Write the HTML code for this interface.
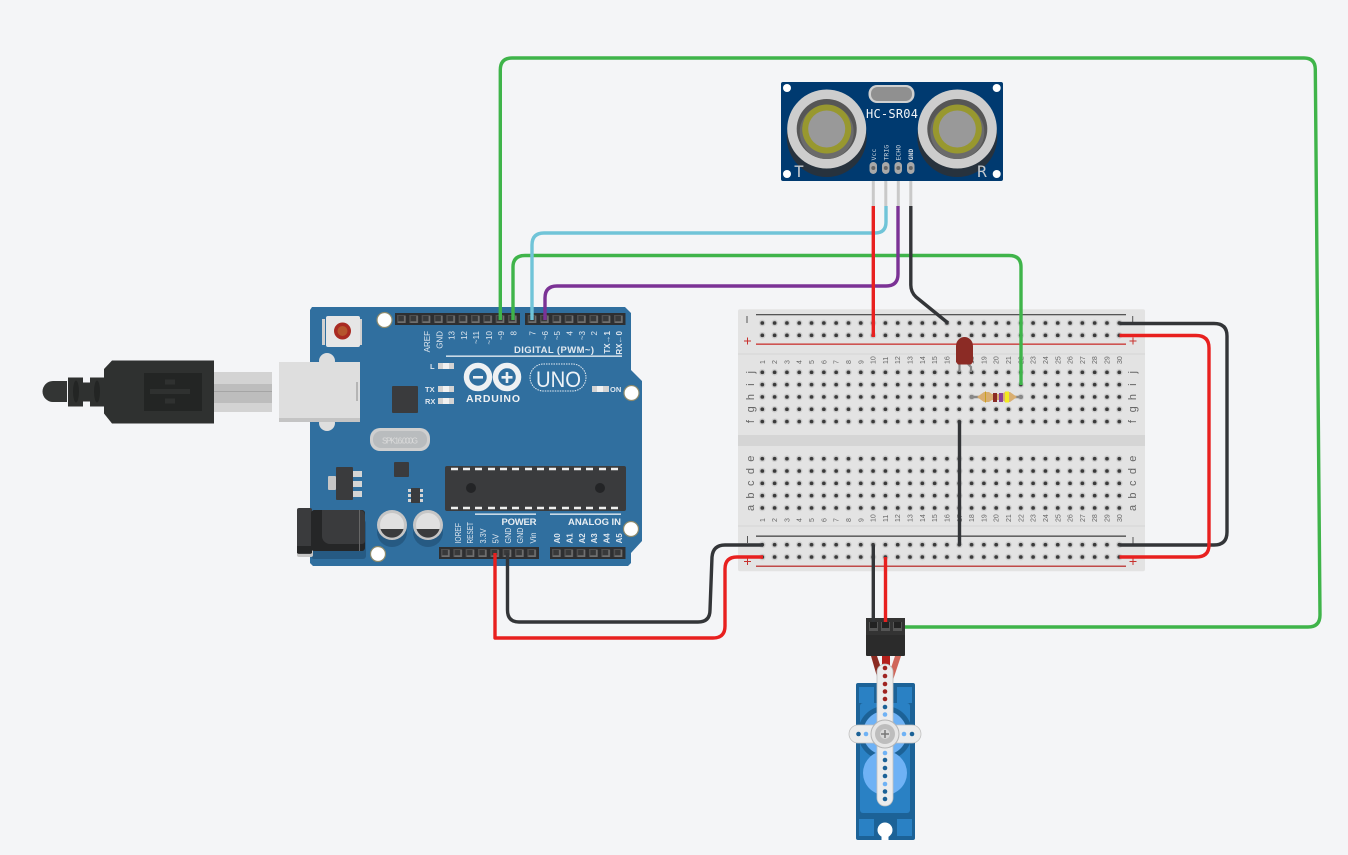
<!DOCTYPE html>
<html><head><meta charset="utf-8"><style>
html,body{margin:0;padding:0;background:#f4f5f7;width:1348px;height:855px;overflow:hidden}
svg{display:block}
text{font-family:"Liberation Sans",sans-serif}
.a{fill:#dfe7ef;font-size:8px;text-anchor:end}
.b{fill:#dfe7ef;font-size:8px;text-anchor:start}
.n{fill:#666;font-size:7px;text-anchor:start}
.l{fill:#666;font-size:11px;text-anchor:middle}
.d{font-family:"DejaVu Sans Mono",monospace}
.w{fill:none;stroke-width:3.4;stroke-linejoin:round;stroke-linecap:butt}
</style></head><body>
<svg width="1348" height="855" viewBox="0 0 1348 855" xmlns="http://www.w3.org/2000/svg">
<defs>
<g id="hc"><circle cx="6.150" cy="6.150" r="3.300" fill="#cdcdcd"/><circle cx="6.150" cy="6.150" r="1.900" fill="#3a3a3a"/></g>
<pattern id="h1" x="756.150" y="316.850" width="12.310" height="12.310" patternUnits="userSpaceOnUse"><use href="#hc"/></pattern>
<pattern id="h2" x="756.150" y="366.150" width="12.310" height="12.310" patternUnits="userSpaceOnUse"><use href="#hc"/></pattern>
<pattern id="h3" x="756.150" y="452.550" width="12.310" height="12.310" patternUnits="userSpaceOnUse"><use href="#hc"/></pattern>
<pattern id="h4" x="756.150" y="538.550" width="12.310" height="12.310" patternUnits="userSpaceOnUse"><use href="#hc"/></pattern>
<g id="pc"><rect x="2" y="2" width="8.600" height="8" fill="#505050"/><rect x="3.500" y="3" width="5.500" height="5" fill="#38393a"/><path d="M3 8.500h7v1.500h-7zM9 3h1.600v7H9z" fill="#707070"/></g>
<pattern id="p1" x="395" y="313" width="12.330" height="12" patternUnits="userSpaceOnUse"><use href="#pc"/></pattern>
<pattern id="p2" x="525.700" y="313" width="12.330" height="12" patternUnits="userSpaceOnUse"><use href="#pc"/></pattern>
<pattern id="p3" x="439" y="547" width="12.330" height="12" patternUnits="userSpaceOnUse"><use href="#pc"/></pattern>
<pattern id="p4" x="550" y="547" width="12.330" height="12" patternUnits="userSpaceOnUse"><use href="#pc"/></pattern>
</defs>
<rect width="1348" height="855" fill="#f4f5f7"/>

<!-- USB cable -->
<path d="M67 381H53a10.500 10.500 0 0 0 0 21H67z" fill="#333534"/>
<path d="M68 377.500h15v5h7v-5h14v29h-14v-5h-7v5h-15z" fill="#2f3130"/>
<ellipse cx="76" cy="391.500" rx="3" ry="11" fill="#232524"/><ellipse cx="97" cy="391.500" rx="3" ry="11" fill="#232524"/>
<path d="M104 369l8-8.500h102v63h-102l-8-10z" fill="#2f3130"/>
<rect x="144" y="373" width="58" height="38" fill="#232524"/>
<path d="M150 391.500h40M165 382h10M165 401h10" stroke="#2f3130" stroke-width="5" fill="none"/>
<rect x="214" y="372" width="58" height="40" fill="#d3d3d3"/><rect x="214" y="384" width="58" height="19" fill="#bdbdbd"/>
<path d="M214 391.500h58" stroke="#a5a5a5" stroke-width="1"/>

<!-- Arduino board -->
<path d="M312 307H625L631 313V370L642 381V541L631 553V563L628 566H313L310 563V310Z" fill="#306f9f"/>
<rect x="326" y="316" width="34" height="31" rx="2" fill="#e6e6e6"/><rect x="322" y="319" width="3" height="26" fill="#d0d0d0"/><rect x="360" y="319" width="2" height="26" fill="#d0d0d0"/>
<circle cx="342.500" cy="331" r="8.500" fill="#a92a22"/><circle cx="342.500" cy="331" r="5" fill="#b5552d"/>
<ellipse cx="327" cy="361" rx="8" ry="8" fill="#dedede"/><ellipse cx="327" cy="423" rx="8" ry="8" fill="#dedede"/>
<rect x="279" y="362" width="81" height="60" fill="#dedede"/><rect x="279" y="418" width="81" height="4" fill="#c4c4c4"/><rect x="356" y="382" width="2" height="19" fill="#b5b5b5"/>

<g fill="#fff" stroke="#8d8a6c" stroke-width="1.200"><circle cx="384.500" cy="320" r="7.500"/><circle cx="631.500" cy="393" r="7.500"/><circle cx="631" cy="529" r="7.500"/><circle cx="378" cy="554" r="7.500"/></g>

<rect x="395" y="313" width="125" height="12" fill="#2e2f31"/><rect x="395" y="313" width="124" height="12" fill="url(#p1)"/>
<rect x="525" y="313" width="100.500" height="12" fill="#2e2f31"/><rect x="525.700" y="313" width="99" height="12" fill="url(#p2)"/>
<rect x="439" y="547" width="100" height="12" fill="#2e2f31"/><rect x="439" y="547" width="99" height="12" fill="url(#p3)"/>
<rect x="550" y="547" width="75.500" height="12" fill="#2e2f31"/><rect x="550" y="547" width="74" height="12" fill="url(#p4)"/>

<text class="a" transform="translate(430,331) rotate(-90)">AREF</text>
<text class="a" transform="translate(442.500,331) rotate(-90)">GND</text>
<text class="a" transform="translate(454.500,331) rotate(-90)">13</text>
<text class="a" transform="translate(467,331) rotate(-90)">12</text>
<text class="a" transform="translate(479,331) rotate(-90)">~11</text>
<text class="a" transform="translate(492,331) rotate(-90)">~10</text>
<text class="a" transform="translate(504,331) rotate(-90)">~9</text>
<text class="a" transform="translate(516.500,331) rotate(-90)">8</text>
<text class="a" transform="translate(535.500,331) rotate(-90)">7</text>
<text class="a" transform="translate(548,331) rotate(-90)">~6</text>
<text class="a" transform="translate(560,331) rotate(-90)">~5</text>
<text class="a" transform="translate(572.500,331) rotate(-90)">4</text>
<text class="a" transform="translate(585,331) rotate(-90)">~3</text>
<text class="a" transform="translate(597,331) rotate(-90)">2</text>
<text class="a" transform="translate(610,331) rotate(-90)" font-weight="bold">TX→1</text>
<text class="a" transform="translate(622,331) rotate(-90)" font-weight="bold">RX←0</text>
<text class="b" transform="translate(461,543.500) rotate(-90)" textLength="20.500" lengthAdjust="spacingAndGlyphs">IOREF</text>
<text class="b" transform="translate(473,543.500) rotate(-90)" textLength="21.500" lengthAdjust="spacingAndGlyphs">RESET</text>
<text class="b" transform="translate(486,543.500) rotate(-90)" textLength="15" lengthAdjust="spacingAndGlyphs">3.3V</text>
<text class="b" transform="translate(498.500,543.500) rotate(-90)" textLength="9.500" lengthAdjust="spacingAndGlyphs">5V</text>
<text class="b" transform="translate(511,543.500) rotate(-90)" textLength="16" lengthAdjust="spacingAndGlyphs">GND</text>
<text class="b" transform="translate(523,543.500) rotate(-90)" textLength="16" lengthAdjust="spacingAndGlyphs">GND</text>
<text class="b" transform="translate(536,543.500) rotate(-90)" textLength="11" lengthAdjust="spacingAndGlyphs">Vin</text>
<text class="b" transform="translate(560,543.500) rotate(-90)" font-weight="bold">A0</text>
<text class="b" transform="translate(572.500,543.500) rotate(-90)" font-weight="bold">A1</text>
<text class="b" transform="translate(585,543.500) rotate(-90)" font-weight="bold">A2</text>
<text class="b" transform="translate(597,543.500) rotate(-90)" font-weight="bold">A3</text>
<text class="b" transform="translate(609.500,543.500) rotate(-90)" font-weight="bold">A4</text>
<text class="b" transform="translate(622,543.500) rotate(-90)" font-weight="bold">A5</text>
<text x="514" y="353" fill="#e2e9f0" font-size="9.500" font-weight="bold" textLength="80">DIGITAL (PWM~)</text>
<rect x="446" y="355.500" width="176" height="1.300" fill="#eef3f7"/>
<rect x="475" y="513.500" width="61" height="1.300" fill="#eef3f7"/><rect x="550" y="513.500" width="71" height="1.300" fill="#eef3f7"/>
<text x="501.500" y="525" fill="#e8eef3" font-size="9.500" font-weight="bold" textLength="35">POWER</text>
<text x="568" y="525" fill="#e8eef3" font-size="9.500" font-weight="bold" textLength="53">ANALOG IN</text>

<g fill="#d3d3d3"><rect x="438" y="363" width="16" height="6"/><rect x="438" y="386" width="16" height="6"/><rect x="438" y="398" width="16" height="6"/><rect x="592" y="386" width="17" height="6"/></g>
<g fill="#f1f1f1"><rect x="443" y="363" width="6" height="6"/><rect x="443" y="386" width="6" height="6"/><rect x="443" y="398" width="6" height="6"/><rect x="597" y="386" width="6" height="6"/></g>
<g fill="#dfe7ef" font-size="7.500" font-weight="bold"><text x="430" y="369">L</text><text x="425" y="392">TX</text><text x="425" y="404">RX</text><text x="610" y="392">ON</text></g>

<g fill="none" stroke="#eef1f3" stroke-width="5.500"><circle cx="478" cy="377" r="11.500"/><circle cx="507" cy="377" r="11.500"/></g>
<rect x="473" y="376" width="10" height="2.600" fill="#eef1f3"/><path d="M501.500 377.300h11M507 372v11" stroke="#eef1f3" stroke-width="2.600"/>
<text x="466" y="402" fill="#eef1f3" font-size="10.500" font-weight="bold" textLength="54">ARDUINO</text>
<rect x="530" y="364" width="56" height="27" rx="13.500" fill="none" stroke="#e8eef3" stroke-width="1" stroke-dasharray="1.500 1"/>
<text x="536" y="387" fill="#eef3f7" font-size="22" textLength="45" lengthAdjust="spacingAndGlyphs">UNO</text>

<rect x="392" y="386" width="26" height="27" rx="1" fill="#3a3b3d"/>
<rect x="370" y="428" width="60" height="23" rx="10" fill="#cfcfcf"/><rect x="373" y="431" width="54" height="17" rx="8" fill="#b9bcbe"/>
<text x="400" y="443.500" fill="#dcdcdc" font-size="8" text-anchor="middle" textLength="36">SPK16.000G</text>
<rect x="328" y="476" width="8" height="14" rx="1" fill="#c6c6c6"/>
<g fill="#d5d5d5"><rect x="352" y="471" width="10" height="6"/><rect x="352" y="481" width="10" height="6"/><rect x="352" y="491" width="10" height="6"/></g>
<rect x="336" y="467" width="17" height="33" rx="1" fill="#3a3b3d"/>
<rect x="394" y="462" width="15" height="15" rx="1" fill="#3a3b3d"/>
<g fill="#d5d5d5"><rect x="408" y="489" width="15" height="3"/><rect x="408" y="494" width="15" height="3"/><rect x="408" y="499" width="15" height="3"/></g>
<rect x="411" y="488" width="9" height="15" fill="#3a3b3d"/>
<rect x="445" y="466" width="181" height="45" rx="2" fill="#3a3b3d"/>
<path d="M451 469h7M463 469h7M475 469h7M488 469h7M500 469h7M512 469h7M525 469h7M537 469h7M549 469h7M562 469h7M574 469h7M586 469h7M599 469h7M611 469h7M451 508h7M463 508h7M475 508h7M488 508h7M500 508h7M512 508h7M525 508h7M537 508h7M549 508h7M562 508h7M574 508h7M586 508h7M599 508h7M611 508h7" stroke="#eee" stroke-width="2.500"/>
<circle cx="471" cy="488" r="5" fill="#232426"/><circle cx="600" cy="488" r="5" fill="#232426"/>

<circle cx="392" cy="532" r="15" fill="#265a83"/><circle cx="428" cy="532" r="15" fill="#265a83"/>
<circle cx="392" cy="525" r="15" fill="#c6c6c6"/><circle cx="392" cy="525" r="12" fill="#e0e0e0"/><path d="M380.500 529h23a12 12 0 0 1-23 0z" fill="#3a3b3d"/>
<circle cx="428" cy="525" r="15" fill="#c6c6c6"/><circle cx="428" cy="525" r="12" fill="#e0e0e0"/><path d="M416.500 529h23a12 12 0 0 1-23 0z" fill="#3a3b3d"/>
<rect x="311" y="520" width="55" height="39" rx="3" fill="#265a83"/>
<rect x="297" y="510" width="16" height="47" rx="2" fill="#c6c6c6"/>
<rect x="297" y="508" width="15" height="46" rx="2" fill="#3a3b3d"/><rect x="297" y="546" width="15" height="7" fill="#252627"/>
<rect x="311" y="510" width="54" height="41" rx="3" fill="#252627"/><path d="M322 510h38a5 5 0 0 1 5 5v26a3 3 0 0 1-3 3h-32a8 8 0 0 1-8-8z" fill="#3a3b3d"/><rect x="359" y="510" width="1" height="41" fill="#666"/>

<!-- Breadboard -->
<rect x="738" y="309.300" width="407" height="262" rx="2" fill="#e3e3e3"/>
<path d="M738 354h407M738 526h407" stroke="#d6d6d6" stroke-width="1"/>
<rect x="738" y="435" width="407" height="11" fill="#d5d5d5"/>
<rect x="756" y="314" width="370" height="1.300" fill="#555"/>
<rect x="756" y="343.500" width="370" height="1.300" fill="#c8312e"/>
<rect x="756" y="535.500" width="370" height="1.300" fill="#444"/>
<rect x="756" y="565.500" width="370" height="1.500" fill="#c04a48"/>
<rect x="756.150" y="316.850" width="369.300" height="24.620" fill="url(#h1)"/>
<rect x="756.150" y="366.150" width="369.300" height="61.550" fill="url(#h2)"/>
<rect x="756.150" y="452.550" width="369.300" height="61.550" fill="url(#h3)"/>
<rect x="756.150" y="538.550" width="369.300" height="24.620" fill="url(#h4)"/>
<path d="M747 316v7M1132.700 316v7M747.500 536v7M1133 537v7" stroke="#555" stroke-width="1"/>
<path d="M744 341h7M747.500 337.500v7M1129.500 341h7M1133 337.500v7M744 561.500h7M747.500 558v7M1129.500 561.500h7M1133 558v7" stroke="#c8312e" stroke-width="1"/>

<text class="n" transform="translate(764.800,364) rotate(-90)">1</text><text class="n" transform="translate(777.100,364) rotate(-90)">2</text><text class="n" transform="translate(789.400,364) rotate(-90)">3</text><text class="n" transform="translate(801.700,364) rotate(-90)">4</text><text class="n" transform="translate(814,364) rotate(-90)">5</text><text class="n" transform="translate(826.300,364) rotate(-90)">6</text><text class="n" transform="translate(838.700,364) rotate(-90)">7</text><text class="n" transform="translate(851,364) rotate(-90)">8</text><text class="n" transform="translate(863.300,364) rotate(-90)">9</text><text class="n" transform="translate(875.600,364) rotate(-90)">10</text><text class="n" transform="translate(887.900,364) rotate(-90)">11</text><text class="n" transform="translate(900.200,364) rotate(-90)">12</text><text class="n" transform="translate(912.500,364) rotate(-90)">13</text><text class="n" transform="translate(924.800,364) rotate(-90)">14</text><text class="n" transform="translate(937.100,364) rotate(-90)">15</text><text class="n" transform="translate(949.500,364) rotate(-90)">16</text><text class="n" transform="translate(961.800,364) rotate(-90)">17</text><text class="n" transform="translate(974.100,364) rotate(-90)">18</text><text class="n" transform="translate(986.400,364) rotate(-90)">19</text><text class="n" transform="translate(998.700,364) rotate(-90)">20</text><text class="n" transform="translate(1011,364) rotate(-90)">21</text><text class="n" transform="translate(1023.300,364) rotate(-90)">22</text><text class="n" transform="translate(1035.600,364) rotate(-90)">23</text><text class="n" transform="translate(1047.900,364) rotate(-90)">24</text><text class="n" transform="translate(1060.300,364) rotate(-90)">25</text><text class="n" transform="translate(1072.600,364) rotate(-90)">26</text><text class="n" transform="translate(1084.900,364) rotate(-90)">27</text><text class="n" transform="translate(1097.200,364) rotate(-90)">28</text><text class="n" transform="translate(1109.500,364) rotate(-90)">29</text><text class="n" transform="translate(1121.800,364) rotate(-90)">30</text>
<text class="n" transform="translate(764.800,522) rotate(-90)">1</text><text class="n" transform="translate(777.100,522) rotate(-90)">2</text><text class="n" transform="translate(789.400,522) rotate(-90)">3</text><text class="n" transform="translate(801.700,522) rotate(-90)">4</text><text class="n" transform="translate(814,522) rotate(-90)">5</text><text class="n" transform="translate(826.300,522) rotate(-90)">6</text><text class="n" transform="translate(838.700,522) rotate(-90)">7</text><text class="n" transform="translate(851,522) rotate(-90)">8</text><text class="n" transform="translate(863.300,522) rotate(-90)">9</text><text class="n" transform="translate(875.600,522) rotate(-90)">10</text><text class="n" transform="translate(887.900,522) rotate(-90)">11</text><text class="n" transform="translate(900.200,522) rotate(-90)">12</text><text class="n" transform="translate(912.500,522) rotate(-90)">13</text><text class="n" transform="translate(924.800,522) rotate(-90)">14</text><text class="n" transform="translate(937.100,522) rotate(-90)">15</text><text class="n" transform="translate(949.500,522) rotate(-90)">16</text><text class="n" transform="translate(961.800,522) rotate(-90)">17</text><text class="n" transform="translate(974.100,522) rotate(-90)">18</text><text class="n" transform="translate(986.400,522) rotate(-90)">19</text><text class="n" transform="translate(998.700,522) rotate(-90)">20</text><text class="n" transform="translate(1011,522) rotate(-90)">21</text><text class="n" transform="translate(1023.300,522) rotate(-90)">22</text><text class="n" transform="translate(1035.600,522) rotate(-90)">23</text><text class="n" transform="translate(1047.900,522) rotate(-90)">24</text><text class="n" transform="translate(1060.300,522) rotate(-90)">25</text><text class="n" transform="translate(1072.600,522) rotate(-90)">26</text><text class="n" transform="translate(1084.900,522) rotate(-90)">27</text><text class="n" transform="translate(1097.200,522) rotate(-90)">28</text><text class="n" transform="translate(1109.500,522) rotate(-90)">29</text><text class="n" transform="translate(1121.800,522) rotate(-90)">30</text>

<text class="l" transform="translate(754,372.300) rotate(-90)">j</text><text class="l" transform="translate(754,384.600) rotate(-90)">i</text><text class="l" transform="translate(754,397) rotate(-90)">h</text><text class="l" transform="translate(754,409.300) rotate(-90)">g</text><text class="l" transform="translate(754,421.600) rotate(-90)">f</text>
<text class="l" transform="translate(754,458.700) rotate(-90)">e</text><text class="l" transform="translate(754,471) rotate(-90)">d</text><text class="l" transform="translate(754,483.300) rotate(-90)">c</text><text class="l" transform="translate(754,495.600) rotate(-90)">b</text><text class="l" transform="translate(754,507.900) rotate(-90)">a</text>
<text class="l" transform="translate(1136,372.300) rotate(-90)">j</text><text class="l" transform="translate(1136,384.600) rotate(-90)">i</text><text class="l" transform="translate(1136,397) rotate(-90)">h</text><text class="l" transform="translate(1136,409.300) rotate(-90)">g</text><text class="l" transform="translate(1136,421.600) rotate(-90)">f</text>
<text class="l" transform="translate(1136,458.700) rotate(-90)">e</text><text class="l" transform="translate(1136,471) rotate(-90)">d</text><text class="l" transform="translate(1136,483.300) rotate(-90)">c</text><text class="l" transform="translate(1136,495.600) rotate(-90)">b</text><text class="l" transform="translate(1136,507.900) rotate(-90)">a</text>

<!-- Resistor -->
<path d="M972 397H1021" stroke="#888" stroke-width="2.500"/><circle cx="972" cy="397" r="2" fill="#888"/><circle cx="1021" cy="397" r="2" fill="#888"/>
<path d="M977 397l7-5h5l3 2h10l3-2h5l7 5-7 5h-5l-3-2h-10l-3 2h-5z" fill="#d9ae70"/>
<rect x="985" y="391.500" width="1" height="11" fill="#c9a020"/><rect x="993" y="393" width="4" height="9" fill="#8a2b24"/><rect x="999" y="393" width="4" height="9" fill="#8a3f97"/><rect x="1005" y="391.500" width="4" height="11" fill="#f2ea1f"/>

<!-- LED -->
<path d="M959.500 364v8M968 364l3 3v5" stroke="#8a8a8a" stroke-width="2.200" fill="none"/>
<path d="M956 346a8.500 9 0 0 1 17 0v16l-2 2.500h-13l-2-2.500z" fill="#8b2b25"/>

<!-- Sensor -->
<rect x="781" y="82" width="222" height="99" rx="2" fill="#003a70"/>
<g fill="#fff"><circle cx="787" cy="88" r="4"/><circle cx="996.700" cy="88" r="4"/><circle cx="787" cy="174" r="4"/><circle cx="996.700" cy="174" r="4"/></g>
<circle cx="826.700" cy="137" r="40" fill="#27323d"/><circle cx="957.300" cy="137" r="40" fill="#27323d"/>
<circle cx="826.700" cy="129" r="39.500" fill="#cdcdcd"/><circle cx="826.700" cy="129" r="30" fill="#565656"/><circle cx="826.700" cy="132" r="27" fill="#6b6b6b"/><circle cx="826.700" cy="129" r="24.500" fill="#98982f"/><circle cx="826.700" cy="129" r="18.500" fill="#999"/>
<circle cx="957.300" cy="129" r="39.500" fill="#cdcdcd"/><circle cx="957.300" cy="129" r="30" fill="#565656"/><circle cx="957.300" cy="132" r="27" fill="#6b6b6b"/><circle cx="957.300" cy="129" r="24.500" fill="#98982f"/><circle cx="957.300" cy="129" r="18.500" fill="#999"/>
<rect x="868.500" y="85" width="46" height="18" rx="8.500" fill="#d0d0d0"/><rect x="871" y="87" width="41" height="14" rx="6.500" fill="#909090"/>
<text x="866" y="118" class="d" fill="#f2f5f8" font-size="12" textLength="52" style="font-family:'DejaVu Sans Mono',monospace">HC-SR04</text>
<text x="799" y="177" fill="#c4c9ce" font-size="16" text-anchor="middle" style="font-family:'DejaVu Sans Mono',monospace">T</text>
<text x="982" y="177" fill="#c4c9ce" font-size="16" text-anchor="middle" style="font-family:'DejaVu Sans Mono',monospace">R</text>
<g fill="#ccd5de" font-size="6.500">
<text transform="translate(876,160.500) rotate(-90)" style="font-family:'DejaVu Sans Mono',monospace">Vcc</text>
<text transform="translate(888.500,160.500) rotate(-90)" style="font-family:'DejaVu Sans Mono',monospace">TRIG</text>
<text transform="translate(900.500,160.500) rotate(-90)" style="font-family:'DejaVu Sans Mono',monospace">ECHO</text>
<text transform="translate(913,160.500) rotate(-90)" style="font-family:'DejaVu Sans Mono',monospace;font-weight:bold">GND</text></g>
<g fill="#a8a8a8"><rect x="869.500" y="162" width="7.500" height="12" rx="3.700"/><rect x="882" y="162" width="7.500" height="12" rx="3.700"/><rect x="894.500" y="162" width="7.500" height="12" rx="3.700"/><rect x="907" y="162" width="7.500" height="12" rx="3.700"/></g>
<g fill="#666"><circle cx="873.300" cy="168" r="2"/><circle cx="885.800" cy="168" r="2"/><circle cx="898.300" cy="168" r="2"/><circle cx="910.800" cy="168" r="2"/></g>
<g fill="#c9c9c9"><rect x="871.800" y="181" width="3" height="25"/><rect x="884.300" y="181" width="3" height="25"/><rect x="896.800" y="181" width="3" height="25"/><rect x="909.300" y="181" width="3" height="25"/></g>

<!-- Servo -->
<rect x="856" y="683" width="59" height="157" rx="2" fill="#1c6297"/>
<rect x="860" y="703" width="50" height="110" rx="3" fill="#2a81c4"/>
<rect x="859" y="687" width="15" height="16" fill="#2a81c4"/><rect x="897" y="687" width="15" height="16" fill="#2a81c4"/>
<rect x="859" y="819" width="15" height="17" fill="#2a81c4"/><rect x="897" y="819" width="15" height="17" fill="#2a81c4"/>
<circle cx="885" cy="733" r="27" fill="#1c6297"/><circle cx="885" cy="733" r="22" fill="#6fb2f5"/><circle cx="885" cy="773" r="22" fill="#6fb2f5"/>
<circle cx="885" cy="830" r="7.500" fill="#fff"/><rect x="881.500" y="830" width="7" height="10" fill="#fff"/>
<path d="M871 656h6l8 24h-7z" fill="#8b2b22"/><path d="M882 656h8v12h-8z" fill="#b3201c"/><path d="M895 656h6l-8 24h-6z" fill="#d0665a"/>
<path d="M877 672a8 8 0 0 1 16 0v53h19a9 9 0 0 1 0 18h-19v55a8 8 0 0 1-16 0v-55h-19a9 9 0 0 1 0-18h19z" fill="#ececec" stroke="#c0c0c0" stroke-width="0.800"/>
<circle cx="885" cy="734" r="14" fill="#e6e6e6" stroke="#b5b5b5"/><circle cx="885" cy="734" r="10" fill="#bdbdbd"/><circle cx="885" cy="734" r="5" fill="#d8d8d8"/><path d="M881 734h8M885 730v8" stroke="#777" stroke-width="1.500"/>
<g fill="#9f2320"><circle cx="885" cy="668" r="2.300"/><circle cx="885" cy="676" r="2.300"/><circle cx="885" cy="684" r="2.300"/><circle cx="885" cy="691.500" r="2.300"/><circle cx="885" cy="699" r="2.300"/></g>
<g fill="#1c6297"><circle cx="885" cy="707" r="2.300"/><circle cx="858.500" cy="734" r="2.300"/><circle cx="912" cy="734" r="2.300"/><circle cx="885" cy="760" r="2.300"/><circle cx="885" cy="768" r="2.300"/><circle cx="885" cy="776" r="2.300"/><circle cx="885" cy="791.500" r="2.300"/><circle cx="885" cy="799" r="2.300"/></g>
<g fill="#6fb2f5"><circle cx="885" cy="714.500" r="2.300"/><circle cx="866" cy="734" r="2.300"/><circle cx="904" cy="734" r="2.300"/><circle cx="885" cy="753" r="2.300"/><circle cx="885" cy="784" r="2.300"/></g>
<rect x="866" y="618" width="39" height="38" rx="1" fill="#2b2b2b"/>
<rect x="866" y="618" width="39" height="17" fill="#333"/>
<g fill="#555"><rect x="869" y="622" width="9" height="9"/><rect x="881" y="622" width="9" height="9"/><rect x="893" y="622" width="9" height="9"/></g>
<g fill="#222"><rect x="870" y="622" width="7" height="6"/><rect x="882" y="622" width="7" height="6"/><rect x="894" y="622" width="7" height="6"/></g>

<!-- Wires -->
<g class="w">
<path stroke="#3fb44a" d="M500.300 320V70Q500.300 58 512 58H1304Q1315 58 1315.300 69L1320 615Q1320 627 1308 627H905"/>
<path stroke="#3fb44a" d="M513 320V267Q513 255.500 525 255.500H1009Q1021 255.500 1021 267V385"/>
<path stroke="#70c4d8" d="M532 320V245Q532 233 544 233H875Q886 233 886 222V206"/>
<path stroke="#7b3295" d="M545 320V298Q545 286 557 286H886Q898 286 898 274V206"/>
<path stroke="#e8201f" d="M873.300 206V337"/>
<path stroke="#333538" d="M910.800 206V285Q910.800 292 916 297L948 323"/>
<path stroke="#333538" d="M959.500 421V545"/>
<path stroke="#e8201f" d="M495 553V638H713Q725 638 725 626V569Q725 557 737 557H763"/>
<path stroke="#333538" d="M507.500 553V610Q507.500 622 519 622H698Q710 622 710 610L712 557Q713 545 725 545H763"/>
<path stroke="#333538" d="M1119.500 323.500H1214Q1227 323.500 1227 336V532Q1227 545 1214 545H1119.500"/>
<path stroke="#e8201f" d="M1119.500 335.500H1196Q1209 335.500 1209 348V545Q1209 557 1196 557H1119.500"/>
<path stroke="#333538" d="M873.300 545V622"/>
<path stroke="#e8201f" d="M885.500 557V622"/>
</g>
</svg>
</body></html>
